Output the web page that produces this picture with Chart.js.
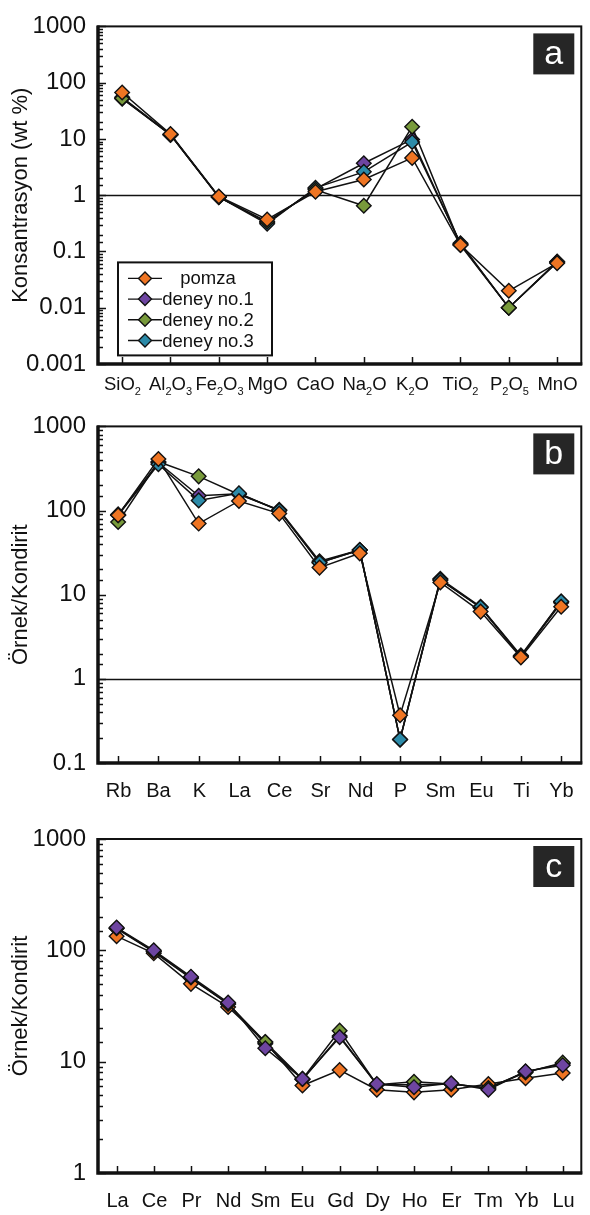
<!DOCTYPE html>
<html>
<head>
<meta charset="utf-8">
<script src="https://cdn.jsdelivr.net/npm/chart.js@4.4.1/dist/chart.umd.min.js"></script>
<style>
  body { margin: 0; background: #fff; width: 590px; height: 1215px; overflow: hidden; position: relative; }
  canvas { position: absolute; left: 0; }
</style>
</head>
<body>
<canvas id="chartA" width="590" height="400" style="top:0"></canvas>
<canvas id="chartB" width="590" height="400" style="top:400px"></canvas>
<canvas id="chartC" width="590" height="415" style="top:800px"></canvas>
<script>
// series names + colours (shared by all three panels)
const seriesNames = ['pomza', 'deney no.1', 'deney no.2', 'deney no.3'];
const seriesColors = ['#EF7523', '#6E45A1', '#789A3B', '#2C8BA9'];

// panel a - major oxides (wt %), "_" marks a subscript digit
const oxides = ['SiO_2', 'Al_2O_3', 'Fe_2O_3', 'MgO', 'CaO', 'Na_2O', 'K_2O', 'TiO_2', 'P_2O_5', 'MnO'];
const pomzaA  = [67, 12.2, 0.95, 0.37, 1.15, 1.9, 4.6, 0.13, 0.02, 0.062];
const deney1A = [55, 12.0, 0.93, 0.33, 1.30, 3.7, 9.8, 0.135, 0.01, 0.066];
const deney2A = [53, 11.8, 0.92, 0.34, 1.25, 0.65, 16.5, 0.13, 0.01, 0.065];
const deney3A = [52, 11.9, 0.93, 0.31, 1.35, 2.6, 8.8, 0.14, 0.01, 0.064];
const ticksA = [0.001, 1000];

// panel b - trace elements / chondrite
const traceEls = ['Rb', 'Ba', 'K', 'La', 'Ce', 'Sr', 'Nd', 'P', 'Sm', 'Eu', 'Ti', 'Yb'];
const pomzaB  = [88, 410, 70, 130, 92, 21, 31, 0.37, 14, 6.3, 1.8, 7.2];
const deney1B = [90, 370, 150, 158, 100, 24, 34, 0.19, 15, 7.0, 1.85, 8.0];
const deney2B = [73, 380, 255, 155, 102, 25, 34, 0.19, 15.5, 7.2, 1.9, 8.3];
const deney3B = [88, 355, 132, 160, 100, 24, 34, 0.19, 15, 7.1, 1.85, 8.3];
const ticksB = [0.1, 1000];

// panel c - REE / chondrite
const reeEls = ['La', 'Ce', 'Pr', 'Nd', 'Sm', 'Eu', 'Gd', 'Dy', 'Ho', 'Er', 'Tm', 'Yb', 'Lu'];
const pomzaC  = [134, 94, 50, 31, 15, 6.1, 8.4, 5.6, 5.3, 5.6, 6.3, 7.1, 7.9];
const deney1C = [160, 100, 58, 34, 13.2, 7.0, 16.6, 6.3, 5.9, 6.4, 5.6, 8.2, 9.3];
const deney2C = [158, 98, 57, 33, 15, 7.0, 19, 6.2, 6.6, 6.3, 5.8, 8.0, 9.8];
const deney3C = [157, 97, 56, 33, 14.5, 6.9, 17, 6.2, 6.2, 6.3, 5.8, 8.1, 9.6];
const ticksC = [1, 1000];

const FAM = "'Liberation Sans', Arial, sans-serif";
const INK = '#111';

function isMajor(v) {
  const l = Math.log10(v);
  return Math.abs(l - Math.round(l)) < 1e-6;
}

function diamond(ctx, x, y, r, fill) {
  ctx.beginPath();
  ctx.moveTo(x - r, y); ctx.lineTo(x, y - r); ctx.lineTo(x + r, y); ctx.lineTo(x, y + r);
  ctx.closePath();
  ctx.fillStyle = fill; ctx.fill();
  ctx.lineWidth = 1.4; ctx.strokeStyle = INK; ctx.stroke();
}

// draws a category label, digits after "_" are subscripts
function drawLabel(ctx, txt, cx, base, size) {
  const parts = [];
  for (let i = 0; i < txt.length; i++) {
    if (txt[i] === '_') { parts.push({ t: txt[i + 1], sub: true }); i++; }
    else parts.push({ t: txt[i], sub: false });
  }
  const big = size + 'px ' + FAM, small = Math.round(size * 0.6) + 'px ' + FAM;
  let w = 0;
  parts.forEach(p => { ctx.font = p.sub ? small : big; p.w = ctx.measureText(p.t).width; w += p.w; });
  let px = cx - w / 2;
  ctx.textAlign = 'left'; ctx.textBaseline = 'alphabetic'; ctx.fillStyle = INK;
  parts.forEach(p => {
    ctx.font = p.sub ? small : big;
    ctx.fillText(p.t, px, p.sub ? base + size * 0.25 : base);
    px += p.w;
  });
}

const decor = {
  id: 'decor',
  beforeDatasetsDraw(chart, args, o) {
    const { ctx, chartArea: a, scales: { y } } = chart;
    if (o.refLine) {
      const py = Math.round(y.getPixelForValue(o.refLine)) + 0.5;
      ctx.save();
      ctx.strokeStyle = INK; ctx.lineWidth = 1.3;
      ctx.beginPath(); ctx.moveTo(a.left, py); ctx.lineTo(a.right, py); ctx.stroke();
      ctx.restore();
    }
  },
  afterDatasetsDraw(chart, args, o) {
    const { ctx, chartArea: a, scales: { x, y } } = chart;
    ctx.save();
    // frame: thin top/right, heavier axes
    ctx.strokeStyle = INK;
    ctx.lineWidth = 2;
    ctx.strokeRect(a.left, a.top, a.right - a.left, a.bottom - a.top);
    ctx.lineWidth = 3.5;
    ctx.beginPath();
    ctx.moveTo(a.left, a.top - 1); ctx.lineTo(a.left, a.bottom); ctx.lineTo(a.right + 1, a.bottom);
    ctx.stroke();

    // inward ticks on y (log: majors long, minors short)
    ctx.lineWidth = 1.5;
    y.ticks.forEach(t => {
      const py = Math.round(y.getPixelForValue(t.value)) + 0.5;
      const len = isMajor(t.value) ? 8 : 5;
      ctx.beginPath(); ctx.moveTo(a.left, py); ctx.lineTo(a.left + len, py); ctx.stroke();
    });
    // inward ticks + labels on x
    chart.data.labels.forEach((lab, i) => {
      const px = Math.round(x.getPixelForValue(i)) + 0.5;
      ctx.beginPath(); ctx.moveTo(px, a.bottom); ctx.lineTo(px, a.bottom - 7); ctx.stroke();
      drawLabel(ctx, lab, px, a.bottom + o.labelGap, o.labelSize);
    });

    // panel letter
    const bx = a.right - 48, by = a.top + 7;
    ctx.fillStyle = '#262626';
    ctx.fillRect(bx, by, 41, 41);
    ctx.fillStyle = '#fff';
    ctx.font = '34px ' + FAM; ctx.textAlign = 'center'; ctx.textBaseline = 'alphabetic';
    ctx.fillText(o.letter, bx + 20.5, by + 31);

    // legend (panel a only)
    if (o.legend) {
      const lx = a.left + 20, ly = a.top + 236, lw = 154, lh = 93;
      ctx.fillStyle = '#fff'; ctx.fillRect(lx, ly, lw, lh);
      ctx.lineWidth = 2; ctx.strokeStyle = INK; ctx.strokeRect(lx, ly, lw, lh);
      chart.data.datasets.forEach((ds, i) => {
        const cy = ly + 16 + i * 20.7;
        ctx.lineWidth = 1.4; ctx.strokeStyle = INK;
        ctx.beginPath(); ctx.moveTo(lx + 10, cy); ctx.lineTo(lx + 44, cy); ctx.stroke();
        diamond(ctx, lx + 27, cy, 6.5, ds.pointBackgroundColor);
        ctx.fillStyle = INK; ctx.font = '18.5px ' + FAM;
        ctx.textAlign = 'center'; ctx.textBaseline = 'middle';
        ctx.fillText(ds.label, lx + 90, cy + 1);
      });
    }
    ctx.restore();
  }
};

function makeChart(id, cfg) {
  const datasets = cfg.series.map((vals, i) => ({
    label: seriesNames[i],
    data: vals,
    order: cfg.order[i],
    borderColor: INK,
    borderWidth: 1.5,
    backgroundColor: seriesColors[i],
    pointBackgroundColor: seriesColors[i],
    pointBorderColor: INK,
    pointBorderWidth: 1.4,
    pointStyle: 'rectRot',
    pointRadius: 7.3,
    pointHoverRadius: 7.3,
    tension: 0,
    clip: false
  }));
  return new Chart(document.getElementById(id), {
    type: 'line',
    data: { labels: cfg.labels, datasets },
    options: {
      responsive: false,
      animation: false,
      devicePixelRatio: 1,
      events: [],
      layout: { padding: { top: cfg.top, right: 4, left: 0, bottom: 0 } },
      plugins: {
        legend: { display: false },
        tooltip: { enabled: false },
        decor: {
          letter: cfg.letter, refLine: cfg.refLine, legend: cfg.legend,
          labelGap: cfg.labelGap, labelSize: cfg.labelSize
        }
      },
      scales: {
        x: {
          type: 'category',
          offset: true,
          grid: { display: false, drawTicks: false },
          border: { display: false },
          ticks: { display: false },
          afterFit(s) { s.height = cfg.xh; }
        },
        y: {
          type: 'logarithmic',
          min: cfg.range[0],
          max: cfg.range[1],
          grid: { display: false, drawTicks: false },
          border: { display: false },
          ticks: {
            autoSkip: false,
            padding: 12,
            color: INK,
            font: { size: 24, family: FAM },
            callback: v => isMajor(v) ? (v >= 1 ? String(Math.round(v)) : String(+v.toPrecision(1))) : ''
          },
          title: {
            display: true, text: cfg.yTitle, color: INK,
            font: { size: 22, family: FAM }, padding: { top: 8, bottom: 0 }
          },
          afterFit(s) { s.width = 98; }
        }
      }
    },
    plugins: [decor]
  });
}

// order: lower = drawn on top
makeChart('chartA', {
  labels: oxides, series: [pomzaA, deney1A, deney2A, deney3A], order: [0, 3, 1, 2],
  range: ticksA, yTitle: 'Konsantrasyon (wt %)', letter: 'a', refLine: 1, legend: true,
  top: 16, xh: 36, labelGap: 26, labelSize: 18.5
});
makeChart('chartB', {
  labels: traceEls, series: [pomzaB, deney1B, deney2B, deney3B], order: [0, 2, 3, 1],
  range: ticksB, yTitle: 'Örnek/Kondirit', letter: 'b', refLine: 1, legend: false,
  top: 25, xh: 37, labelGap: 34, labelSize: 20
});
makeChart('chartC', {
  labels: reeEls, series: [pomzaC, deney1C, deney2C, deney3C], order: [2, 0, 1, 3],
  range: ticksC, yTitle: 'Örnek/Kondirit', letter: 'c', refLine: null, legend: false,
  top: 39, xh: 42, labelGap: 34, labelSize: 20
});
</script>
</body>
</html>
